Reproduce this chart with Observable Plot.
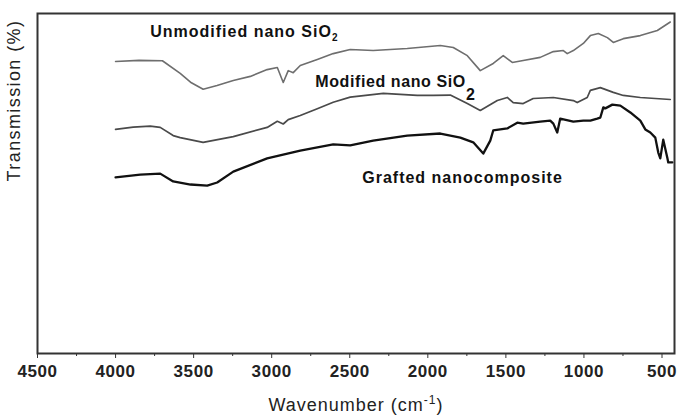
<!DOCTYPE html>
<html><head><meta charset="utf-8">
<script src="https://cdn.jsdelivr.net/npm/d3@7"></script>
<script src="https://cdn.jsdelivr.net/npm/@observablehq/plot@0.6"></script>
<style>
body{margin:0;background:#fff}
#chart{width:678px;height:415px}
</style>
</head><body><div id="chart"></div>
<script>
// Wavenumbers (cm-1) and transmission (arbitrary %)
const unmodWn = [4000,3850,3700,3586,3520,3439,3350,3246,3137,3029,2964,2926,2894,2862,2817,2708,2606,2497,2350,2132,1920,1837,1747,1664,1581,1517,1459,1389,1280,1196,1132,1107,1068,1004,959,908,850,812,748,639,530,447];
const unmodT  = [85.9,86.2,86.1,82.4,79.8,77.7,78.8,80.3,81.5,83.5,84.1,79.7,83.2,82.6,84.7,86.5,88.2,89.4,89.1,89.7,90.6,90,87.6,83.2,85.3,87.6,85.6,86.2,87.1,88.8,89.1,88.2,89.1,91.2,93.5,94.1,92.9,91.5,92.6,93.5,95,97.5];

const modWn = [4000,3887,3778,3714,3631,3586,3439,3246,3029,2964,2926,2894,2817,2708,2606,2497,2285,2068,1965,1856,1747,1664,1555,1491,1453,1389,1325,1196,1068,1043,979,959,895,812,748,639,447];
const modT  = [65.9,66.6,66.9,66.5,64.1,63.5,62.1,63.8,66.5,68.3,67.5,68.8,70,72,73.9,75.4,76.5,75.9,75.9,76,73.5,71.5,74.4,75.3,73.8,73.5,75,75.3,74.4,73.8,75.3,77.4,78.2,76.8,75.9,75.3,74.7];

const graftWn = [4000,3842,3714,3631,3520,3413,3349,3246,3029,2817,2606,2497,2350,2132,1920,1792,1709,1645,1600,1581,1491,1427,1389,1280,1216,1196,1171,1152,1068,1004,959,915,895,876,863,818,767,703,639,607,575,543,524,511,492,466,460,434];
const graftT  = [51.8,52.6,52.9,50.6,49.7,49.4,50.3,53.5,57.4,59.7,61.5,61.2,62.6,64.1,64.7,63.5,62.1,58.8,62.6,65.6,66.2,67.9,67.6,68.2,68.5,67.6,65,69.1,68.2,68.5,68.5,69.1,69.4,72.4,72.1,73.2,72.9,70.9,68.5,65.9,65,63.5,59.1,57.4,62.9,57.6,56.2,56.2];

const xTicks = [4500,4000,3500,3000,2500,2000,1500,1000,500];
const xMinorTicks = [4250,3750,3250,2750,2250,1750,1250,750];

const seriesNames = ["Unmodified nano SiO2","Modified nano SiO2","Grafted nanocomposite"];
const labelWn = [3778,2721,2420];
const labelT  = [93.2,78.3,50.1];

const toRows = (wn, t) => wn.map((w, i) => ({w, t: t[i]}));
const labels = seriesNames.map((s, i) => ({s, w: labelWn[i], t: labelT[i]}));

const font = "'Liberation Sans', Arial, sans-serif";

const chart = Plot.plot({
  width: 678, height: 415,
  marginLeft: 37, marginTop: 13, marginRight: 4, marginBottom: 62,
  style: {fontFamily: font, background: "#fff", color: "#222"},
  x: {domain: [4500, 420], axis: null},
  y: {domain: [0, 100], axis: null},
  marks: [
    Plot.line(toRows(unmodWn, unmodT), {x: "w", y: "t", stroke: "#6e6e6e", strokeWidth: 1.6}),
    Plot.line(toRows(modWn, modT), {x: "w", y: "t", stroke: "#4a4a4a", strokeWidth: 1.7}),
    Plot.line(toRows(graftWn, graftT), {x: "w", y: "t", stroke: "#111", strokeWidth: 2.3}),
    Plot.axisX(xMinorTicks, {tickSize: 3, tickFormat: () => "", label: null, stroke: "#333"}),
    Plot.axisX(xTicks, {tickSize: 5, tickPadding: 6, tickFormat: d => String(d), label: null, fontSize: 17, fontWeight: "bold", stroke: "#333", fill: "#222"}),
    Plot.frame({stroke: "#333", strokeWidth: 2}),
    Plot.text(labels, {x: "w", y: "t", text: "s", textAnchor: "start", lineAnchor: "bottom", fontSize: 16, fontWeight: "bold", fill: "#111"}),
    Plot.text(["Wavenumber (cm-1)"], {frameAnchor: "bottom", dy: 57, lineAnchor: "bottom", fontSize: 18, fill: "#222"}),
    Plot.text(["Transmission (%)"], {frameAnchor: "top-left", textAnchor: "middle", lineAnchor: "middle", dx: -23, dy: 87, rotate: -90, fontSize: 18, fill: "#222"})
  ]
});
document.getElementById("chart").append(chart);

const svg = d3.select(chart);
svg.selectAll("text").each(function () {
  const el = d3.select(this);
  const s = this.textContent;
  if (s === "Unmodified nano SiO2") {
    el.text(null).attr("letter-spacing", "1px");
    el.append("tspan").text("Unmodified nano SiO");
    el.append("tspan").attr("font-size", 10).attr("dy", 4).text("2");
  } else if (s === "Modified nano SiO2") {
    el.text(null).attr("letter-spacing", "0.6px");
    el.append("tspan").text("Modified nano SiO");
    el.append("tspan").attr("dy", 13).text("2");
  } else if (s === "Grafted nanocomposite") {
    el.attr("letter-spacing", "1px");
  } else if (s === "Wavenumber (cm-1)") {
    el.text(null).attr("letter-spacing", "1px");
    el.append("tspan").text("Wavenumber (cm");
    el.append("tspan").attr("font-size", 12).attr("dy", -7).text("-1");
    el.append("tspan").attr("dy", 7).text(")");
  } else if (s === "Transmission (%)") {
    el.attr("letter-spacing", "1.4px");
  } else if (/^\d+$/.test(s)) {
    el.attr("letter-spacing", "0.6px");
  }
});
</script>
</body></html>
